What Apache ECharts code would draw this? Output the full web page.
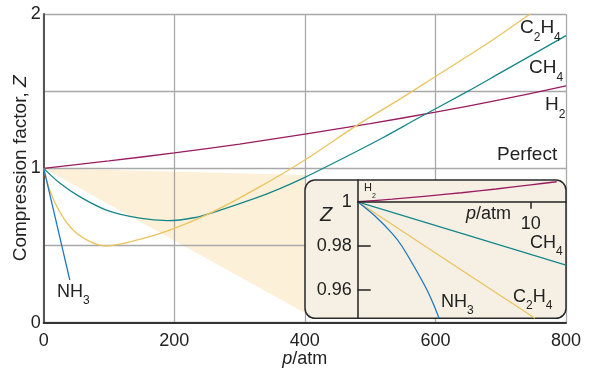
<!DOCTYPE html>
<html>
<head>
<meta charset="utf-8">
<script src="https://cdn.jsdelivr.net/npm/echarts@6/dist/echarts.min.js"></script>
<style>
  html, body { margin: 0; background: #fff; }
  #chart { width: 604px; height: 376px; }
</style>
</head>
<body>
<div id="chart"></div>
<script>
// main panel: [p/atm, Z]
const h2Main = [[0,1],[100,1.048],[200,1.1],[300,1.157],[400,1.222],[500,1.29],[600,1.364],[700,1.445],[800,1.534]];
const ch4Main = [[0,1],[25,0.903],[55,0.817],[96,0.73],[147,0.677],[190,0.661],[230,0.68],[265,0.722],[320,0.8],[360,0.866],[400,0.942],[470,1.09],[520,1.2],[576,1.331],[650,1.5],[700,1.62],[800,1.86]];
const c2h4Main = [[0,1],[10,0.85],[25,0.715],[45,0.6],[71,0.525],[96,0.497],[147,0.54],[193,0.6],[260,0.72],[330,0.878],[400,1.054],[479,1.277],[546,1.45],[600,1.595],[680,1.81],[745,2.0]];
const nh3Main = [[0,1],[10,0.82],[20,0.638],[30,0.457],[40,0.276]];

// inset (low pressure)
const h2Inset = [[0,1],[2,1.0012],[4,1.0026],[6,1.0041],[8,1.0058],[10,1.0077],[11.5,1.0091]];
const ch4Inset = [[0,1],[6,0.9856],[12.04,0.9712]];
const c2h4Inset = [[0,1],[5,0.9741],[10.25,0.947]];
const nh3Inset = [[0,1],[1,0.9935],[2,0.9855],[2.54,0.98],[3.3,0.97],[4,0.96],[4.4,0.953],[4.7,0.947]];

const yLabels = [0, 1, 2];
const insetYLabels = [0.96, 0.98, 1];
const insetYTicks = [0.96, 0.98];
const insetXLabels = [10];

const COL = { h2: '#9a1b5f', ch4: '#15878a', c2h4: '#ebc45f', nh3: '#1f78c1' };
const FONT = '"Liberation Sans", Arial, Helvetica, sans-serif';
const TXT = '#222';

const MAIN = { left: 43.7, top: 14, right: 38, bottom: 53.3 };
const INSET = { left: 357.7, top: 180, width: 208.3, height: 138.3 };

const chart = echarts.init(document.getElementById('chart'));

function line(name, data, color, xi, smooth) {
  return {
    name, type: 'line', data, xAxisIndex: xi, yAxisIndex: xi,
    showSymbol: false, smooth: smooth,
    lineStyle: { color, width: 1.3 }, z: xi ? 5 : 2, silent: true
  };
}

const subRich = (size) => ({
  n: { fontSize: size, fontFamily: FONT, color: TXT, lineHeight: size + 12 },
  s: { fontSize: Math.round(size * 0.65), fontFamily: FONT, color: TXT, lineHeight: Math.round(size * 0.65), verticalAlign: 'bottom' },
  i: { fontSize: size, fontFamily: FONT, color: TXT, fontStyle: 'italic', lineHeight: size + 12 }
});

function label(text, x, y, size) {
  return {
    type: 'text', x, y, z: 8, silent: true,
    style: {
      text, rich: subRich(size), fill: TXT, font: size + 'px ' + FONT,
      textAlign: 'left', textVerticalAlign: 'middle', align: 'left', verticalAlign: 'middle'
    }
  };
}

chart.setOption({
  animation: false,
  grid: [
    { left: MAIN.left, top: MAIN.top, right: MAIN.right, bottom: MAIN.bottom, containLabel: false, outerBoundsMode: 'none' },
    { left: INSET.left, top: INSET.top, width: INSET.width, height: INSET.height, containLabel: false, outerBoundsMode: 'none' }
  ],
  xAxis: [
    {
      type: 'value', gridIndex: 0, min: 0, max: 800, interval: 200,
      name: '{i|p}/atm', nameLocation: 'middle', nameGap: 27, nameMoveOverlap: false,
      nameTextStyle: { fontSize: 18, fontFamily: FONT, color: TXT, rich: { i: { fontStyle: 'italic', fontSize: 18, fontFamily: FONT, color: TXT } } },
      axisLine: { lineStyle: { color: '#333', width: 2 } },
      axisTick: { show: false },
      axisLabel: { fontSize: 18, fontFamily: FONT, color: TXT, margin: 9 },
      splitLine: { lineStyle: { color: '#a8a8a8', width: 1.3 } }
    },
    {
      type: 'value', gridIndex: 1, min: 0, max: 12.04, position: 'top', offset: -21.7, z: 6,
      axisLine: { lineStyle: { color: '#222', width: 1.5 } },
      axisTick: { inside: true, length: 7, customValues: insetXLabels, lineStyle: { color: '#222', width: 1.5 } },
      axisLabel: { inside: true, customValues: insetXLabels, fontSize: 18, fontFamily: FONT, color: TXT, margin: 13 },
      splitLine: { show: false }
    }
  ],
  yAxis: [
    {
      type: 'value', gridIndex: 0, min: 0, max: 2, interval: 0.5,
      name: 'Compression factor, {i|Z}', nameLocation: 'middle', nameGap: 13, nameMoveOverlap: false,
      nameTextStyle: { fontSize: 19, fontFamily: FONT, color: TXT, rich: { i: { fontStyle: 'italic', fontSize: 19, fontFamily: FONT, color: TXT } } },
      axisLine: { lineStyle: { color: '#555', width: 2 } },
      axisTick: { show: false },
      axisLabel: { customValues: yLabels, fontSize: 18, fontFamily: FONT, color: TXT, margin: 3 },
      splitLine: { lineStyle: { color: '#a8a8a8', width: 1.3 } }
    },
    {
      type: 'value', gridIndex: 1, min: 0.947, max: 1.0099, z: 6,
      axisLine: { lineStyle: { color: '#222', width: 1.5 } },
      axisTick: { inside: true, length: 13, customValues: insetYTicks, lineStyle: { color: '#222', width: 1.5 } },
      axisLabel: { customValues: insetYLabels, fontSize: 18, fontFamily: FONT, color: TXT, margin: 6 },
      splitLine: { show: false }
    }
  ],
  series: [
    line('H2', h2Main, COL.h2, 0, 0.3),
    line('CH4', ch4Main, COL.ch4, 0, 0.3),
    line('C2H4', c2h4Main, COL.c2h4, 0, 0.3),
    line('NH3', nh3Main, COL.nh3, 0, 0.2),
    line('H2 inset', h2Inset, COL.h2, 1, 0.3),
    line('CH4 inset', ch4Inset, COL.ch4, 1, 0),
    line('C2H4 inset', c2h4Inset, COL.c2h4, 1, 0),
    line('NH3 inset', nh3Inset, COL.nh3, 1, 0.3)
  ]
});

// inset frame and the shaded wedge that links it to the origin
const origin = chart.convertToPixel({ gridIndex: 0 }, [0, 1]);
const boxX = INSET.left - 52.7;
chart.setOption({
  graphic: [
    {
      type: 'polygon', z: -1, silent: true,
      shape: { points: [origin, [boxX, 175], [boxX, 313]] },
      style: { fill: '#fdf0d8' }
    },
    {
      type: 'rect', z: 4, silent: true,
      shape: { x: boxX, y: INSET.top, width: INSET.width + 52.7, height: INSET.height, r: 10 },
      style: { fill: '#f6f0e4', stroke: '#2a2a2a', lineWidth: 1.5 }
    },
    label('{n|C}{s|2}{n|H}{s|4}', 520, 28, 19),
    label('{n|CH}{s|4}', 529, 68, 19),
    label('{n|H}{s|2}', 545, 105, 19),
    label('{n|Perfect}', 497, 155, 19),
    label('{n|NH}{s|3}', 57, 292, 18),
    label('{n|H}{s|2}', 364, 188, 11),
    label('{n|CH}{s|4}', 530, 243, 18),
    label('{n|NH}{s|3}', 441, 302, 18),
    label('{n|C}{s|2}{n|H}{s|4}', 513, 297, 18),
    label('{i|Z}', 320, 215, 20),
    label('{i|p}{n|/atm}', 466, 214, 18)
  ]
});
</script>
</body>
</html>
